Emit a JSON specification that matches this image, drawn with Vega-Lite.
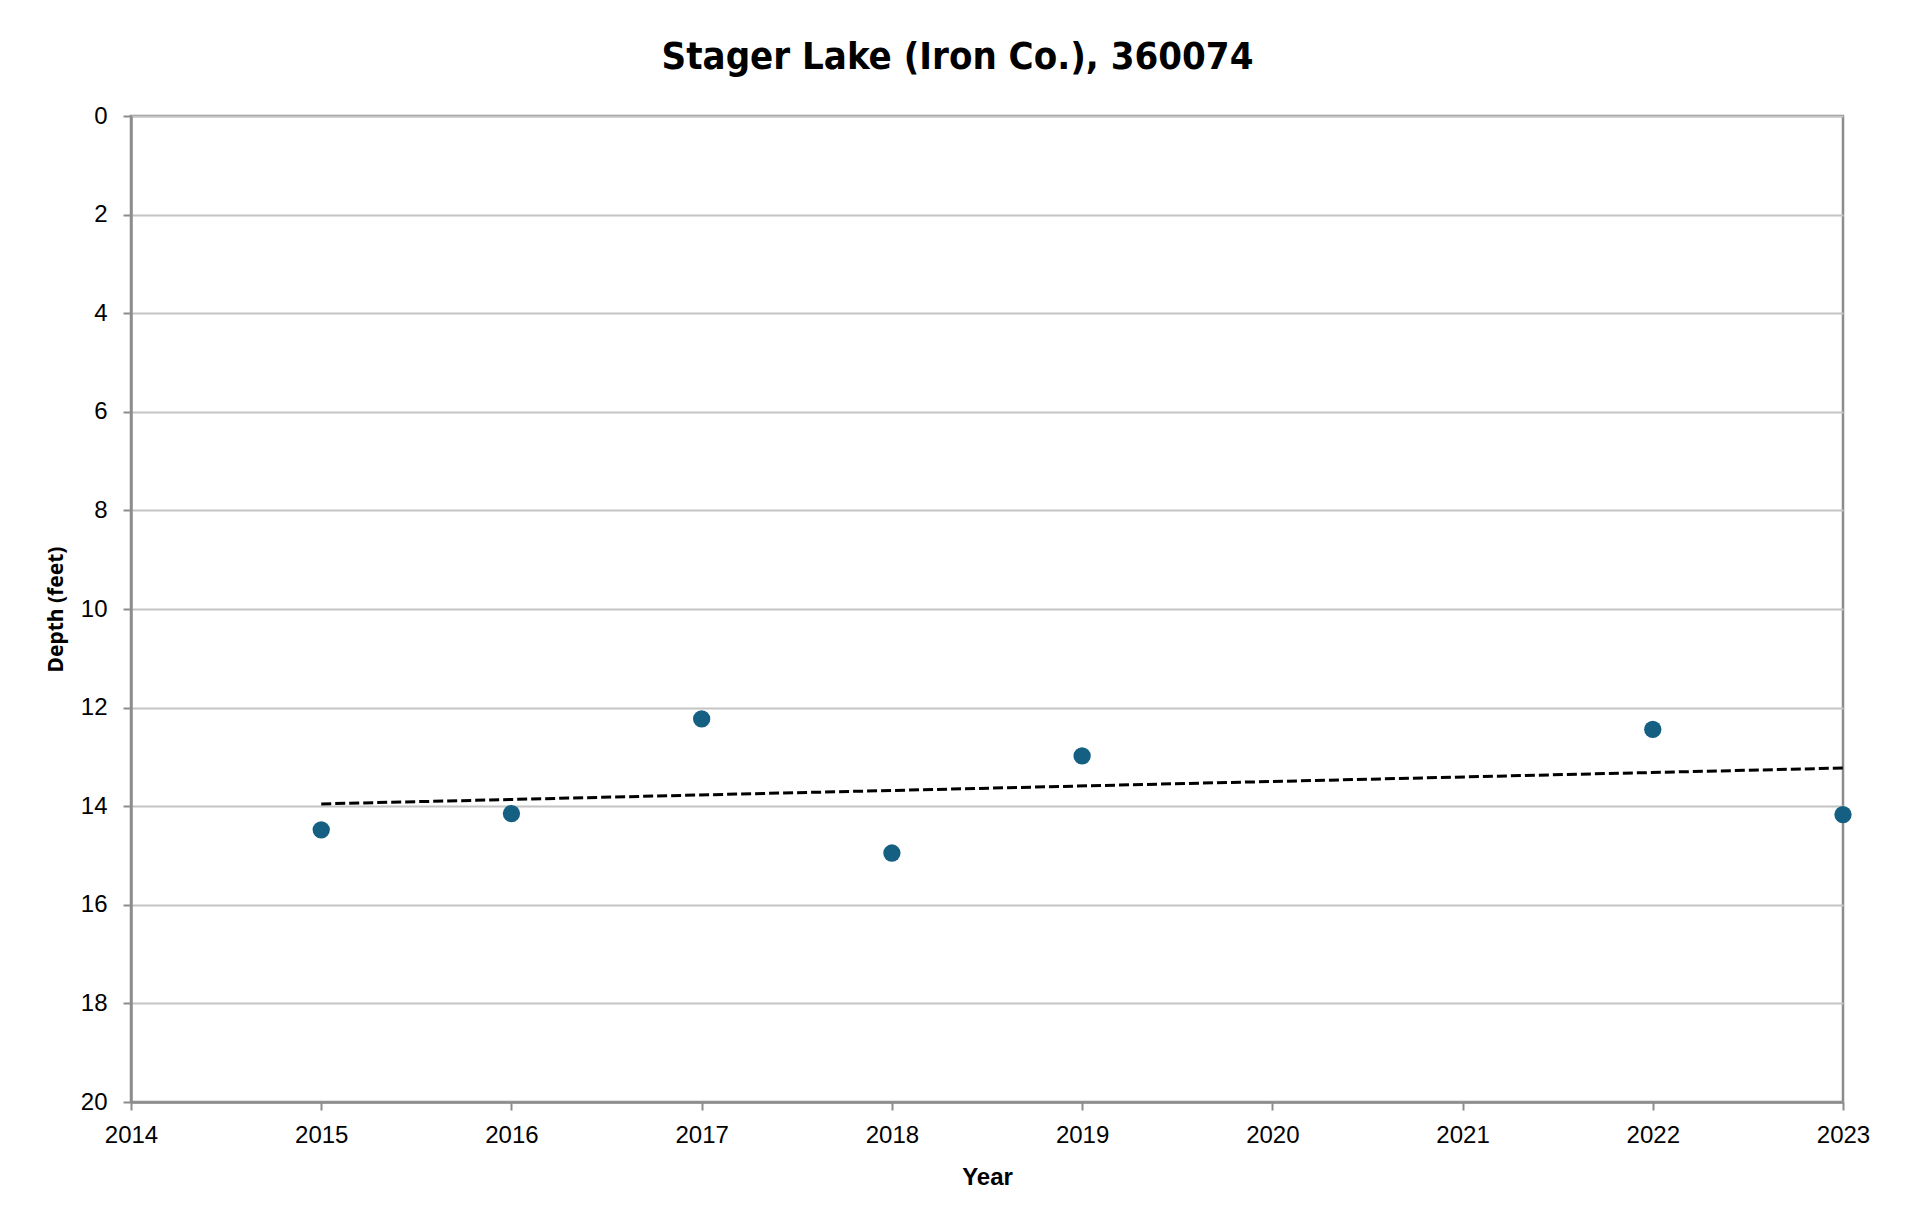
{
  "$schema": "https://vega.github.io/schema/vega-lite/v6.json",
  "width": 1712,
  "height": 986,
  "autosize": {"type": "none"},
  "padding": {"left": 131, "top": 116, "right": 63, "bottom": 121},
  "background": "white",
  "title": {
    "text": "Stager Lake (Iron Co.), 360074",
    "font": "Liberation Sans Narrow, DejaVu Sans Condensed, Liberation Sans",
    "fontSize": 38,
    "fontWeight": "bold",
    "color": "black",
    "anchor": "middle",
    "frame": "bounds",
    "offset": 27
  },
  "data": {
    "values": [
      {"year": 2015, "depth": 14.48},
      {"year": 2016, "depth": 14.15},
      {"year": 2017, "depth": 12.23},
      {"year": 2018, "depth": 14.95},
      {"year": 2019, "depth": 12.98},
      {"year": 2022, "depth": 12.44},
      {"year": 2023, "depth": 14.17}
    ]
  },
  "encoding": {
    "x": {
      "field": "year",
      "type": "quantitative",
      "title": "Year",
      "scale": {"domain": [2014, 2023], "nice": false, "zero": false},
      "axis": {
        "values": [2014, 2015, 2016, 2017, 2018, 2019, 2020, 2021, 2022, 2023],
        "format": "d",
        "grid": false,
        "labelFlush": false,
        "labelOverlap": false,
        "domainColor": "#8c8c8c",
        "domainWidth": 2.5,
        "tickColor": "#8c8c8c",
        "tickWidth": 2,
        "tickSize": 8,
        "labelPadding": 13,
        "labelFont": "Liberation Sans",
        "labelFontSize": 24,
        "labelColor": "black",
        "titleFont": "Liberation Sans",
        "titleFontSize": 24,
        "titleFontWeight": "bold",
        "titleColor": "black",
        "titlePadding": 18
      }
    },
    "y": {
      "field": "depth",
      "type": "quantitative",
      "title": "Depth (feet)",
      "scale": {"domain": [0, 20], "reverse": true, "nice": false},
      "axis": {
        "values": [0, 2, 4, 6, 8, 10, 12, 14, 16, 18, 20],
        "grid": true,
        "labelFlush": false,
        "labelOverlap": false,
        "gridColor": "#c4c4c4",
        "gridWidth": 2,
        "domainColor": "#8c8c8c",
        "domainWidth": 2.5,
        "tickColor": "#8c8c8c",
        "tickWidth": 2,
        "tickSize": 8,
        "labelPadding": 16,
        "labelFont": "Liberation Sans",
        "labelFontSize": 24,
        "labelColor": "black",
        "titleFont": "Noto Sans",
        "titleFontSize": 21,
        "titleFontWeight": "bold",
        "titleColor": "black",
        "titlePadding": 14
      }
    }
  },
  "layer": [
    {
      "transform": [
        {"regression": "depth", "on": "year", "extent": [2015, 2023]}
      ],
      "mark": {"type": "line", "color": "black", "strokeWidth": 3, "strokeDash": [10, 4], "clip": false}
    },
    {
      "mark": {"type": "point", "filled": true, "shape": "circle", "size": 300, "color": "#156082", "opacity": 1, "clip": false}
    }
  ],
  "config": {
    "view": {"stroke": "#8c8c8c", "strokeWidth": 2.5}
  }
}
